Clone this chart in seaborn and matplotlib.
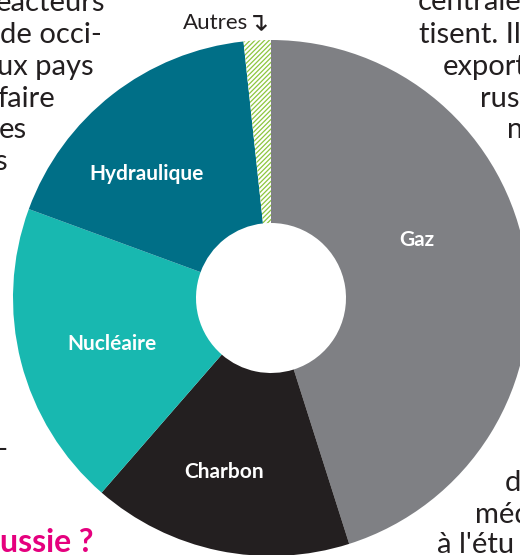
import numpy as np
import matplotlib
matplotlib.use("Agg")
import matplotlib.pyplot as plt
import seaborn as sns

# Données : mix électrique (part en %)
sources = ["Gaz", "Charbon", "Nucléaire", "Hydraulique", "Autres"]
parts = [45.1, 16.3, 19.2, 17.7, 1.7]
couleurs = ["#7f8084", "#231f20", "#18b8b0", "#006f87", "#ffffff"]

# fragments du texte de la page autour du graphique
texte_gauche = ["eacteurs", "de occi-", "ux pays", "faire", "es", "s"]
texte_droite = ["centrale", "tisent. Il", "export", "russ", "n"]
texte_bas = ["d", "méd", "à l'étu"]
titre_bas = "ussie ?"

sns.set_theme(style="white")
plt.rcParams['font.family'] = ['Lato', 'DejaVu Sans']
plt.rcParams['hatch.linewidth'] = 0.9

W, H = 520, 555
fig = plt.figure(figsize=(W / 100, H / 100), dpi=100)

# centre du disque (px) et rayon
cx, cy, R = 271, 298, 258
ax = fig.add_axes([(cx - R) / W, (H - cy - R) / H, 2 * R / W, 2 * R / H])

wedges, _ = ax.pie(
    parts, colors=couleurs, startangle=90, counterclock=False,
    radius=1, wedgeprops=dict(width=1 - 75 / R, linewidth=0),
)
ax.set_xlim(-1, 1)
ax.set_ylim(-1, 1)
ax.axis("off")

# hachures pour "Autres"
wedges[-1].set_hatch("///////")
wedges[-1].set_edgecolor("#8dc63f")
wedges[-1].set_linewidth(0)

# étiquettes blanches dans les parts (angle en degrés, distance relative)
pos_labels = {"Gaz": (21.7, 0.61), "Hydraulique": (135, 0.68),
              "Nucléaire": (196, 0.64), "Charbon": (255, 0.70)}
for nom, (ang, dist) in pos_labels.items():
    a = np.deg2rad(ang)
    ax.text(dist * np.cos(a), dist * np.sin(a), nom, ha="center", va="center",
            color="white", fontsize=15, fontweight="bold")

def px(x, y):
    return x / W, 1 - y / H

fig.text(*px(183, 29), sources[-1], ha="left", va="baseline",
         fontsize=16, color="#231f20")
fig.text(*px(247, 30), "\u21b4", ha="left", va="baseline",
         fontsize=19, color="#231f20", family="DejaVu Sans")

corps = dict(fontsize=21, color="#231f20", va="baseline")
for txt, xr, yb in zip(texte_gauche, [105, 102, 94, 55, 27, 7], [11, 43, 75, 107, 138, 170]):
    fig.text(*px(xr, yb), txt, ha="right", **corps)
for txt, xl, yb in zip(texte_droite, [418, 419, 443, 480, 507], [10, 43, 75, 107, 138]):
    fig.text(*px(xl, yb), txt, ha="left", **corps)
for txt, xl, yb in zip(texte_bas, [505, 475, 437], [491, 523, 553]):
    fig.text(*px(xl, yb), txt, ha="left", **corps)
fig.text(*px(8, 458), "\u2013", ha="right", **corps)
fig.text(*px(0, 552), titre_bas, ha="left", va="baseline", fontsize=23,
         fontweight="bold", color="#e5007e")

fig.savefig("out.png", dpi=100)
